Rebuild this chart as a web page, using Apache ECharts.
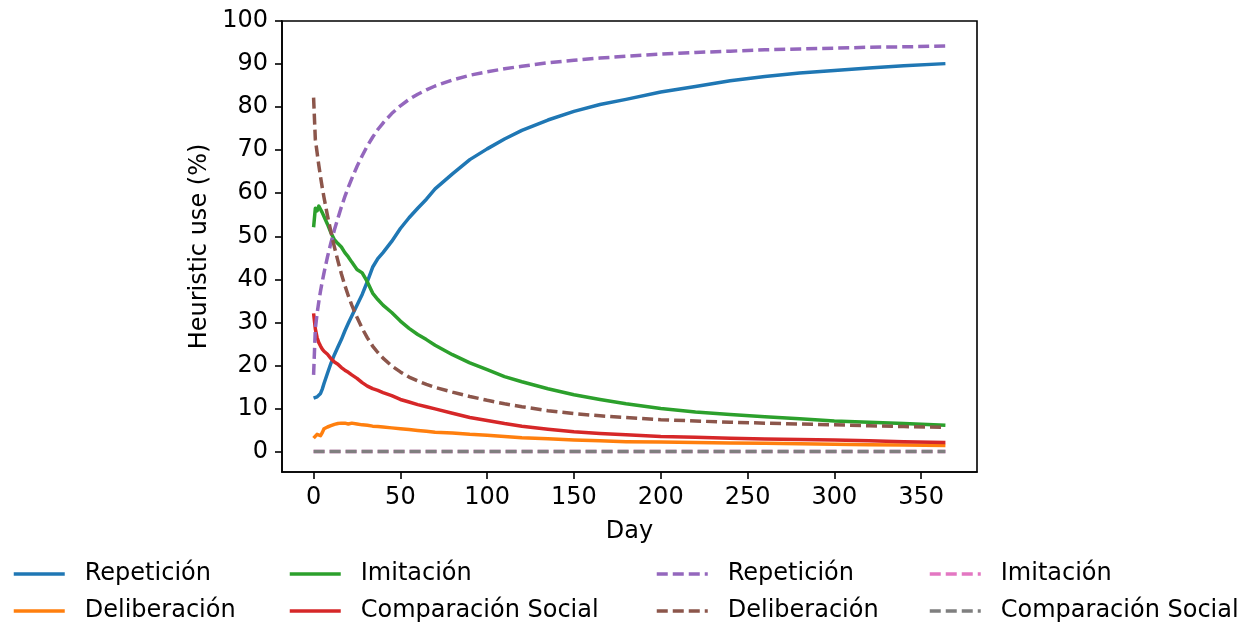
<!DOCTYPE html>
<html>
<head>
<meta charset="utf-8">
<script src="https://cdn.jsdelivr.net/npm/echarts@6/dist/echarts.min.js"></script>
<style>
html,body{margin:0;padding:0;background:#fff;}
#chart{width:1258px;height:628px;}
</style>
</head>
<body>
<div id="chart"></div>
<script>
// ---- data ----
const days = [0,1,2,3,4,5,6,8,10,12,14,16,18,20,22,25,28,31,34,37,40,45,50,55,60,65,70,80,90,100,110,120,135,150,165,180,200,220,240,260,280,300,320,340,364];

// solid lines
const repeticion = [12.4,12.5,12.7,12.9,13.5,14.5,15.8,18.2,20.5,22.5,24.3,26.0,28.0,29.8,31.5,34.0,36.5,39.5,42.8,44.8,46.2,48.8,51.8,54.3,56.5,58.6,61.0,64.5,67.8,70.3,72.6,74.6,77.0,79.0,80.6,81.8,83.5,84.8,86.1,87.1,87.9,88.5,89.1,89.6,90.1];
const deliberacion = [3.1,3.3,4.0,4.2,3.7,4.4,5.3,5.7,6.0,6.3,6.5,6.6,6.6,6.4,6.6,6.4,6.2,6.1,5.9,5.8,5.7,5.5,5.3,5.1,4.9,4.7,4.5,4.3,4.0,3.8,3.5,3.2,3.0,2.7,2.5,2.3,2.2,2.1,2.0,1.9,1.8,1.7,1.6,1.5,1.4];
const imitacion = [52.1,56.5,55.9,57.0,56.6,55.5,54.6,52.8,50.8,49.2,48.3,47.5,46.2,45.2,44.0,42.3,41.5,39.4,36.8,35.3,34.0,32.3,30.3,28.6,27.2,26.0,24.7,22.5,20.6,19.0,17.4,16.2,14.6,13.2,12.1,11.1,10.0,9.2,8.6,8.1,7.6,7.1,6.8,6.5,6.1];
const comparacion = [32.1,28.5,26.5,25.3,24.5,23.8,23.3,22.6,21.6,20.8,20.3,19.5,18.9,18.4,17.8,17.0,16.0,15.2,14.6,14.2,13.7,13.0,12.1,11.5,10.9,10.4,9.9,8.9,7.9,7.2,6.5,5.9,5.2,4.6,4.2,3.9,3.5,3.3,3.1,2.9,2.8,2.7,2.5,2.3,2.1];

// dashed lines
const repeticionD = [17.8,28.5,32.0,34.8,37.3,39.5,41.5,45.2,48.5,51.5,54.2,56.8,59.2,61.4,63.4,66.2,68.7,71.0,73.0,74.8,76.3,78.5,80.3,81.8,83.0,84.0,84.9,86.3,87.4,88.2,88.9,89.5,90.3,90.9,91.4,91.8,92.3,92.7,93.0,93.3,93.5,93.7,93.9,94.0,94.2];
const deliberacionD = [82.2,72.5,69.5,66.5,63.8,61.3,59.0,54.8,51.0,47.5,44.3,41.3,38.6,36.2,34.0,31.2,28.6,26.4,24.5,23.0,21.7,19.9,18.5,17.3,16.4,15.6,14.9,13.8,12.8,11.9,11.1,10.4,9.5,8.8,8.3,7.9,7.4,7.1,6.8,6.6,6.4,6.2,6.0,5.8,5.6];
const imitacionD = [0,0,0,0,0,0,0,0,0,0,0,0,0,0,0,0,0,0,0,0,0,0,0,0,0,0,0,0,0,0,0,0,0,0,0,0,0,0,0,0,0,0,0,0,0];
const comparacionD = [0,0,0,0,0,0,0,0,0,0,0,0,0,0,0,0,0,0,0,0,0,0,0,0,0,0,0,0,0,0,0,0,0,0,0,0,0,0,0,0,0,0,0,0,0];

const labels = ['Repetición','Deliberación','Imitación','Comparación Social'];
const xTicks = [0,50,100,150,200,250,300,350];
const yTicks = [0,10,20,30,40,50,60,70,80,90,100];
const xLabel = 'Day';
const yLabel = 'Heuristic use (%)';

// ---- chart ----
const colors = ['#1f77b4','#ff7f0e','#2ca02c','#d62728','#9467bd','#8c564b','#e377c2','#7f7f7f'];
const seriesVals = [repeticion, deliberacion, imitacion, comparacion, repeticionD, deliberacionD, imitacionD, comparacionD];
const SUFFIX = ' (2)';
const names = labels.concat(labels.map(l => l + SUFFIX));
const LW = 3.5;
const DASH = [11, 5];

const series = seriesVals.map((vals, i) => ({
  name: names[i],
  type: 'line',
  data: days.map((d, k) => [d, vals[k]]),
  showSymbol: false,
  symbol: 'none',
  smooth: false,
  animation: false,
  color: colors[i],
  lineStyle: {
    color: colors[i],
    width: LW,
    type: i < 4 ? 'solid' : DASH,
    cap: 'butt',
    join: 'round'
  },
  emphasis: {disabled: true}
}));

const font = 'DejaVu Sans';
const colX = [12, 288, 655, 928];
const rowY = [574, 611];
const legends = names.map((n, i) => {
  const col = Math.floor(i / 2);
  const row = i % 2;
  return {
    data: [n],
    left: colX[col],
    top: rowY[row] - 12,
    padding: 0,
    itemWidth: 51,
    itemHeight: 14,
    selectedMode: false,
    itemStyle: {opacity: 0, borderWidth: 0},
    lineStyle: {width: LW, type: i < 4 ? 'solid' : DASH, color: colors[i], cap: 'butt'},
    formatter: s => s.replace(SUFFIX, ''),
    textStyle: {fontFamily: font, fontSize: 24, color: '#000', padding: [0, 0, 0, 15]}
  };
});

const axisCommon = {
  axisLine: {show: true, onZero: false, lineStyle: {color: '#000', width: 1.6}},
  splitLine: {show: false},
  axisTick: {show: true, inside: false, length: 7, lineStyle: {color: '#000', width: 1.6}},
  nameTextStyle: {fontFamily: font, fontSize: 24, color: '#000'}
};

const option = {
  backgroundColor: '#fff',
  animation: false,
  grid: {left: 282, right: 281, top: 21, bottom: 156, show: true, borderColor: '#000', borderWidth: 1.6, backgroundColor: 'transparent'},
  legend: legends,
  xAxis: Object.assign({}, axisCommon, {
    type: 'value', min: -18.2, max: 382.2,
    name: xLabel, nameLocation: 'middle', nameGap: 48,
    axisTick: Object.assign({}, axisCommon.axisTick, {customValues: xTicks}),
    axisLabel: {customValues: xTicks, margin: 14, fontFamily: font, fontSize: 24, color: '#000'}
  }),
  yAxis: Object.assign({}, axisCommon, {
    type: 'value', min: -4.75, max: 100,
    name: yLabel, nameLocation: 'middle', nameGap: 70, nameRotate: 90,
    axisTick: Object.assign({}, axisCommon.axisTick, {customValues: yTicks}),
    axisLabel: {customValues: yTicks, margin: 14, fontFamily: font, fontSize: 24, color: '#000'}
  }),
  series: series
};

const chart = echarts.init(document.getElementById('chart'), null, {renderer: 'canvas'});
chart.setOption(option);
</script>
</body>
</html>
